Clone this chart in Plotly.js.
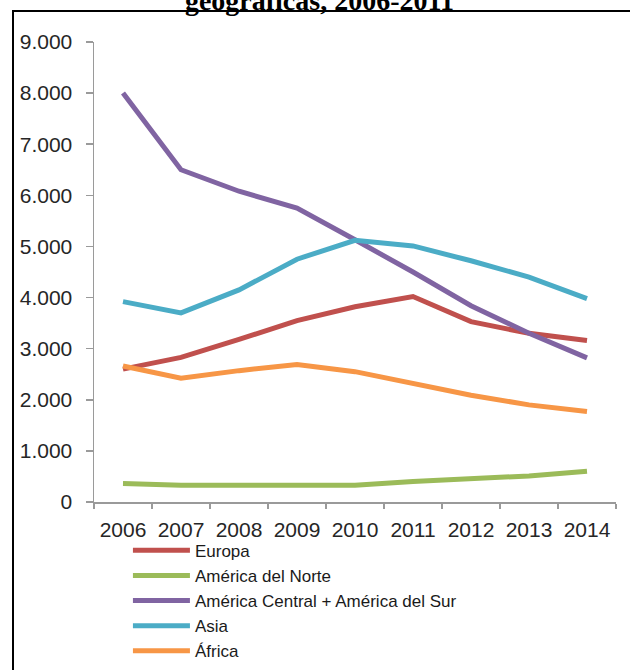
<!DOCTYPE html>
<html>
<head>
<meta charset="utf-8">
<script src="https://cdn.plot.ly/plotly-3.0.1.min.js"></script>
<style>
  html, body { margin: 0; padding: 0; background: #fff; overflow: hidden; }
  #wrap { position: relative; width: 630px; height: 670px; }
  #chart { position: absolute; left: 0; top: 0; width: 630px; height: 670px; }
  #frame { position: absolute; left: 12px; top: 10px; width: 640px; height: 700px;
           border-left: 2px solid #000; border-top: 2px solid #000; pointer-events: none; }
</style>
</head>
<body>
<div id="wrap">
  <div id="chart"></div>
  <div id="frame"></div>
</div>
<script>
// Categories (years)
var years = ['2006', '2007', '2008', '2009', '2010', '2011', '2012', '2013', '2014'];

// Series names
var seriesNames = ['Europa', 'América del Norte', 'América Central + América del Sur', 'Asia', 'África'];

// Series values
var europa      = [2600, 2830, 3180, 3550, 3820, 4020, 3530, 3300, 3160];
var norte       = [360, 330, 330, 330, 330, 400, 450, 510, 600];
var centralSur  = [8000, 6500, 6080, 5750, 5130, 4500, 3840, 3300, 2820];
var asia        = [3920, 3700, 4150, 4750, 5120, 5010, 4720, 4400, 3980];
var africa      = [2660, 2420, 2570, 2690, 2550, 2330, 2090, 1900, 1770];

// Y tick values
var yTicks = [0, 1000, 2000, 3000, 4000, 5000, 6000, 7000, 8000, 9000];

var seriesValues = [europa, norte, centralSur, asia, africa];
var colors = ['#C0504D', '#9BBB59', '#8064A2', '#4BACC6', '#F79646'];

var traces = seriesValues.map(function (vals, i) {
  return {
    type: 'scatter',
    mode: 'lines',
    x: years,
    y: vals,
    name: seriesNames[i],
    line: { color: colors[i], width: 5 },
    hoverinfo: 'x+y+name'
  };
});

var axisGray = '#9a9a9a';
var tickFont = { family: 'Liberation Sans, Arial, sans-serif', size: 21, color: '#262626' };

var layout = {
  width: 630,
  height: 670,
  paper_bgcolor: '#ffffff',
  plot_bgcolor: '#ffffff',
  separators: ',.',
  margin: { l: 94, r: 14, t: 42, b: 168, autoexpand: false },
  title: {
    text: 'geográficas, 2006-2011',
    font: { family: 'Liberation Serif, Times New Roman, serif', size: 28, color: '#000', weight: 'bold' },
    x: 0.507, xref: 'container', xanchor: 'center',
    y: 1, yref: 'container', yanchor: 'middle'
  },
  xaxis: {
    type: 'category',
    range: [-0.5, 8.5],
    tickson: 'boundaries',
    ticks: 'outside',
    ticklen: 5,
    tickwidth: 1.5,
    tickcolor: axisGray,
    showline: true,
    linecolor: axisGray,
    linewidth: 1.5,
    showgrid: false,
    zeroline: false,
    tickfont: tickFont,
    ticklabelstandoff: 8,
    fixedrange: true
  },
  yaxis: {
    range: [0, 9000],
    tickvals: yTicks,
    tickformat: ',d',
    ticks: 'outside',
    ticklen: 7,
    tickwidth: 1.5,
    tickcolor: axisGray,
    showline: true,
    linecolor: axisGray,
    linewidth: 1.5,
    showgrid: false,
    zeroline: false,
    tickfont: tickFont,
    ticklabelstandoff: 9,
    fixedrange: true
  },
  showlegend: true,
  legend: {
    orientation: 'v',
    x: 0.065, xanchor: 'left',
    y: -0.067, yanchor: 'top',
    bgcolor: 'rgba(0,0,0,0)',
    borderwidth: 0,
    itemwidth: 57,
    tracegroupgap: 0,
    font: { family: 'Liberation Sans, Arial, sans-serif', size: 17, color: '#1a1a1a' }
  }
};

Plotly.newPlot('chart', traces, layout, { displayModeBar: false, staticPlot: true });
</script>
</body>
</html>
